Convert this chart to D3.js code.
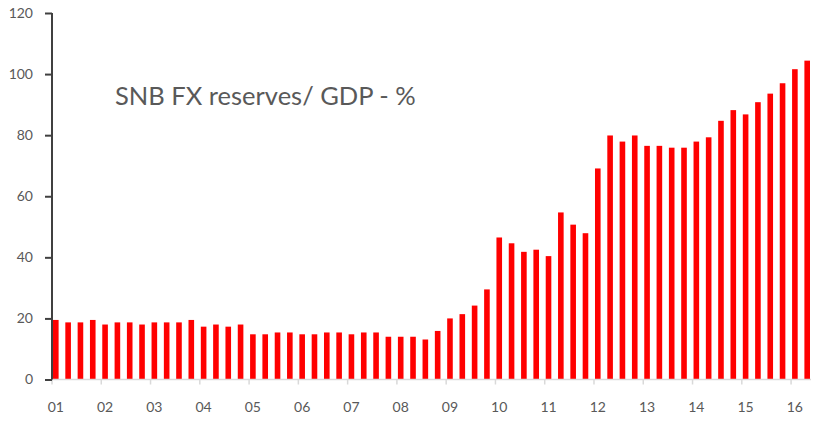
<!DOCTYPE html>
<html>
<head>
<meta charset="utf-8">
<script src="https://cdnjs.cloudflare.com/ajax/libs/d3/7.8.5/d3.min.js"></script>
<style>
  html, body { margin: 0; padding: 0; background: #fff; }
  svg { display: block; font-family: Lato, "Open Sans", sans-serif; }
</style>
</head>
<body>
<svg id="chart" width="834" height="425"></svg>
<script>
// Quarterly SNB FX reserves as % of GDP, 2001 Q1 - 2016 Q2
const years = ['01','02','03','04','05','06','07','08','09','10','11','12','13','14','15','16'];
const quarters = ['Q1','Q2','Q3','Q4'];
const values = [
    19.5, 18.7, 18.7, 19.5,   // 01
    18.0, 18.7, 18.7, 18.0,   // 02
    18.7, 18.7, 18.7, 19.5,   // 03
    17.3, 18.0, 17.3, 18.0,   // 04
    14.8, 14.8, 15.4, 15.4,   // 05
    14.8, 14.8, 15.4, 15.4,   // 06
    14.8, 15.4, 15.4, 14.0,   // 07
    14.0, 14.0, 13.1, 15.9,   // 08
    20.0, 21.4, 24.2, 29.5,   // 09
    46.5, 44.6, 41.8, 42.5,   // 10
    40.4, 54.7, 50.7, 47.9,   // 11
    69.1, 79.9, 77.9, 79.9,   // 12
    76.5, 76.5, 75.9, 75.9,   // 13
    77.9, 79.3, 84.7, 88.2,   // 14
    86.8, 90.8, 93.6, 97.0,   // 15
    101.6, 104.4              // 16
];
const yTicks = [0, 20, 40, 60, 80, 100, 120];
const title = 'SNB FX reserves/ GDP - %';

// category keys like "01Q1"
const categories = values.map((v, i) => years[Math.floor(i / 4)] + quarters[i % 4]);
const data = categories.map((c, i) => ({ key: c, year: years[Math.floor(i / 4)], q: i % 4, value: values[i] }));

const svg = d3.select('#chart');
const axisColor = '#404040';
const textColor = '#595959';

const x = d3.scaleBand()
    .domain(categories)
    .range([53, 810])
    .paddingInner(0.545)
    .paddingOuter(0);

const y = d3.scaleLinear()
    .domain([0, 120])
    .range([379.5, 13]);

// Bars
svg.append('g')
    .selectAll('rect')
    .data(data)
    .enter()
    .append('rect')
    .attr('x', d => x(d.key))
    .attr('y', d => y(d.value))
    .attr('width', x.bandwidth())
    .attr('height', d => y(0) - y(d.value))
    .attr('fill', '#ff0000');

// X axis baseline (light grey) with year ticks
const xAxis = svg.append('g');
xAxis.append('line')
    .attr('x1', 52).attr('x2', 811)
    .attr('y1', y(0)).attr('y2', y(0))
    .attr('stroke', '#d9d9d9')
    .attr('stroke-width', 1.5);

const yearStarts = data.filter(d => d.q === 0);
xAxis.selectAll('line.tick')
    .data(yearStarts)
    .enter()
    .append('line')
    .attr('class', 'tick')
    .attr('x1', d => x(d.key) - 1)
    .attr('x2', d => x(d.key) - 1)
    .attr('y1', y(0))
    .attr('y2', y(0) + 5)
    .attr('stroke', '#d9d9d9')
    .attr('stroke-width', 1.5);

xAxis.selectAll('text')
    .data(yearStarts)
    .enter()
    .append('text')
    .attr('x', d => x(d.key) + x.bandwidth() / 2)
    .attr('y', 412)
    .attr('text-anchor', 'middle')
    .attr('fill', textColor)
    .style('font-size', '14px')
    .text(d => d.year);

// Y axis
const yAxis = svg.append('g')
    .attr('transform', 'translate(52,0)')
    .call(d3.axisLeft(y).tickValues(yTicks).tickSize(7).tickPadding(12));

yAxis.select('.domain')
    .attr('d', `M0,${y(120)}V${y(0)}`)
    .attr('stroke', axisColor)
    .attr('stroke-width', 2);
yAxis.selectAll('.tick line')
    .attr('stroke', axisColor)
    .attr('stroke-width', 2);
yAxis.selectAll('.tick text')
    .attr('fill', textColor)
    .style('font-size', '14px')
    .style('font-family', 'Lato, "Open Sans", sans-serif');

// Title inside plot
svg.append('text')
    .attr('x', 115)
    .attr('y', 105)
    .attr('fill', textColor)
    .style('font-size', '25.5px')
    .text(title);
</script>
</body>
</html>
